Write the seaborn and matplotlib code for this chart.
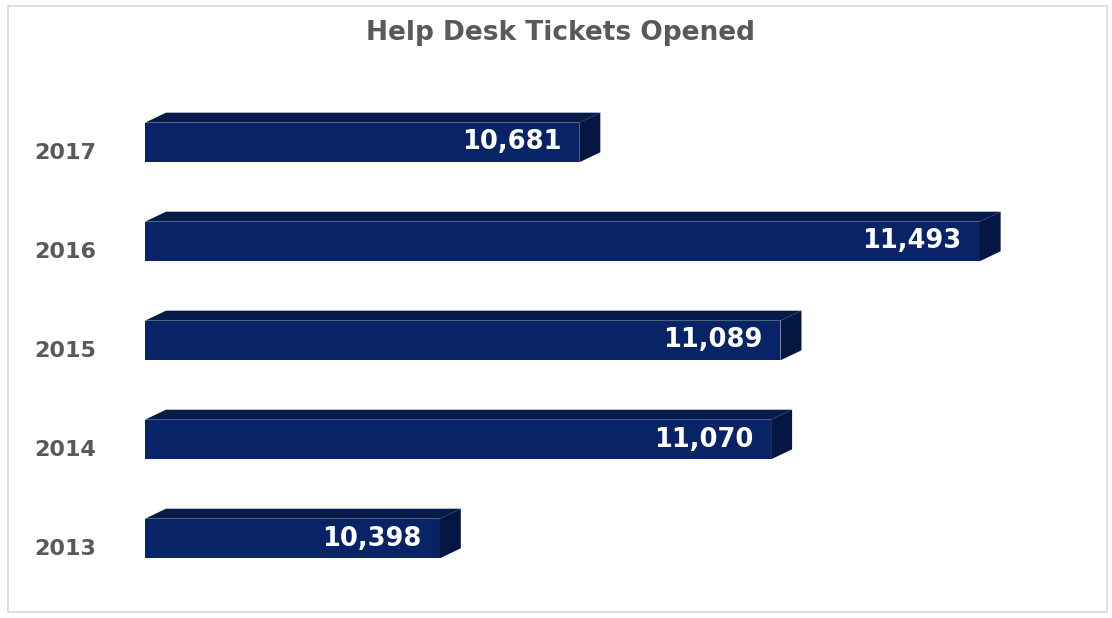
import matplotlib
matplotlib.use("Agg")
import matplotlib.pyplot as plt
import matplotlib.transforms as mtransforms
from matplotlib.patches import Polygon, Rectangle
import seaborn as sns
import pandas as pd

years = ["2017", "2016", "2015", "2014", "2013"]
tickets = [10681, 11493, 11089, 11070, 10398]
value_labels = ["10,681", "11,493", "11,089", "11,070", "10,398"]
chart_title = "Help Desk Tickets Opened"

FRONT = "#082466"
TOP = "#071b4a"
SIDE = "#041641"
TEXT_GRAY = "#595959"

sns.set_theme(style="white")
plt.rcParams["font.family"] = ["DejaVu Sans"]

W, H = 1112, 618
fig = plt.figure(figsize=(W / 100, H / 100), dpi=100)
fig.patch.set_facecolor("white")

# axes box in pixel terms: left 145, right 1060, top 80, bottom 600
ax = fig.add_axes([145 / W, (H - 600) / H, (1060 - 145) / W, 520 / H])

df = pd.DataFrame({"year": years, "tickets": tickets})
sns.barplot(data=df, x="tickets", y="year", orient="h", width=0.4,
            color=FRONT, saturation=1, linewidth=0, ax=ax, zorder=3)

ax.set_xlim(9800, 11656)
ax.set_ylim(4.621, -0.631)
for s in ax.spines.values():
    s.set_visible(False)
ax.set_xticks([])
ax.set_xlabel("")
ax.set_ylabel("")
ax.tick_params(axis="y", length=0, pad=35)
for lab in ax.get_yticklabels():
    lab.set_fontsize(16)
    lab.set_fontweight("bold")
    lab.set_color(TEXT_GRAY)
    lab.set_transform(lab.get_transform() +
                      mtransforms.ScaledTranslation(0, -6 / 72, fig.dpi_scale_trans))

# depth faces (top and right side) drawn in display pixels
fig.canvas.draw()
DX, DY = 21, 10
x_left_disp = ax.transData.transform((9800, 0))[0]
for bar in ax.patches:
    x1 = bar.get_x() + bar.get_width()
    y_top = bar.get_y()
    y_bot = bar.get_y() + bar.get_height()
    (xr, yt) = ax.transData.transform((x1, y_top))
    (_, yb) = ax.transData.transform((x1, y_bot))
    xl = x_left_disp
    top_face = Polygon([(xl, yt), (xl + DX, yt + DY), (xr + DX, yt + DY), (xr, yt)],
                       closed=True, transform=None, facecolor=TOP,
                       edgecolor="none", zorder=2)
    side_face = Polygon([(xr, yt), (xr + DX, yt + DY), (xr + DX, yb + DY), (xr, yb)],
                        closed=True, transform=None, facecolor=SIDE,
                        edgecolor="none", zorder=2)
    fig.patches.extend([top_face, side_face])

label_tf = mtransforms.offset_copy(ax.transData, fig=fig, x=-18, y=0, units="dots")
for i, (v, t) in enumerate(zip(tickets, value_labels)):
    ax.text(v, i, t, transform=label_tf, ha="right", va="center",
            fontsize=18.5, fontweight="bold", color="white", zorder=5)

fig.text(560 / W, 1 - 33 / H, chart_title, ha="center", va="center",
         fontsize=19, fontweight="bold", color=TEXT_GRAY)

# light frame around the chart area
fig.patches.append(Rectangle((8 / W, 6 / H), (1107 - 8) / W, (612 - 6) / H,
                             transform=fig.transFigure, fill=False,
                             edgecolor="#d9d9d9", linewidth=1.2, zorder=0))

fig.savefig("out.png", dpi=100)
